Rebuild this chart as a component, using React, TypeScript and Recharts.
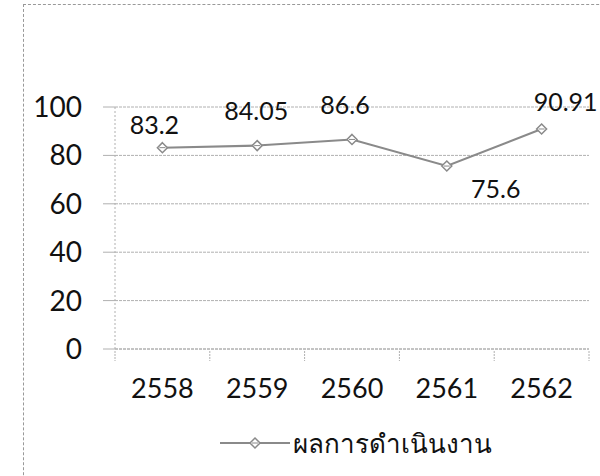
import { LineChart, Line, XAxis, YAxis, CartesianGrid, Legend, LabelList } from "recharts";

const YEARS = ["2558", "2559", "2560", "2561", "2562"];
const RESULTS = [83.2, 84.05, 86.6, 75.6, 90.91];
const Y_TICKS = [0, 20, 40, 60, 80, 100];
const SERIES_NAME = "ผลการดำเนินงาน";

// label placement relative to each point (Excel moved them by hand)
const LABEL_OFFSETS = [
  [-8, -24],
  [-1, -36],
  [-7, -35],
  [49, 22],
  [24, -28],
];

const data = YEARS.map((year, i) => ({ year, value: RESULTS[i] }));

const FONT = "Lato, 'Open Sans', sans-serif";
const LINE = "#8a8a8a";
const GRID = "#b0b0b0";
const BAND = 94.8;

function Marker({ cx, cy }: any) {
  if (cx == null || cy == null) return null;
  const r = 5;
  return (
    <g>
      <polygon
        points={`${cx},${cy - r} ${cx + r},${cy} ${cx},${cy + r} ${cx - r},${cy}`}
        fill="#fff"
        stroke={LINE}
        strokeWidth={1.5}
      />
      <line x1={cx - 3} y1={cy} x2={cx + 3} y2={cy} stroke={LINE} strokeWidth={1} />
    </g>
  );
}

function XTick({ x, y, payload, index }: any) {
  const last = index === YEARS.length - 1;
  return (
    <g>
      <line x1={x - BAND / 2} y1={y} x2={x - BAND / 2} y2={y + 10} stroke={GRID} strokeDasharray="2 1" />
      {last && <line x1={x + BAND / 2} y1={y} x2={x + BAND / 2} y2={y + 10} stroke={GRID} strokeDasharray="2 1" />}
      <text x={x} y={y + 47} textAnchor="middle" fontSize={27} fill="#111" fontFamily={FONT}>
        {payload.value}
      </text>
    </g>
  );
}

function ValueLabel({ x, y, value, index }: any) {
  const [dx, dy] = LABEL_OFFSETS[index] ?? [0, -20];
  return (
    <text x={x + dx} y={y + dy} textAnchor="middle" dominantBaseline="central" fontSize={25} fill="#111" fontFamily={FONT}>
      {value}
    </text>
  );
}

function LegendContent() {
  return (
    <svg width={600} height={44}>
      <line x1={220} y1={22} x2={290} y2={22} stroke={LINE} strokeWidth={2} />
      <Marker cx={255} cy={22} />
      <text x={293} y={22} dominantBaseline="central" fontSize={26} fontWeight={500} fill="#111" fontFamily="'Noto Sans', sans-serif">
        {SERIES_NAME}
      </text>
    </svg>
  );
}

export default function App() {
  return (
    <div style={{ position: "absolute", left: 0, top: 0, width: 600, height: 476, background: "#fff", overflow: "hidden" }}>
      <div
        style={{
          position: "absolute",
          left: 23,
          top: 4,
          width: 620,
          height: 520,
          borderLeft: "1px dashed #999",
          borderTop: "1px dashed #999",
        }}
      />
      <LineChart
        width={600}
        height={476}
        data={data}
        margin={{ top: 107, right: 11, left: 0, bottom: 0 }}
        style={{ position: "absolute", left: 0, top: 0 }}
      >
        <CartesianGrid vertical={false} stroke={GRID} strokeDasharray="3 1" />
        <XAxis
          dataKey="year"
          height={127}
          padding={{ left: BAND / 2, right: BAND / 2 }}
          axisLine={{ stroke: GRID, strokeDasharray: "3 1" }}
          tickLine={false}
          tickSize={0}
          tick={<XTick />}
          interval={0}
        />
        <YAxis
          width={115}
          domain={[0, 100]}
          ticks={Y_TICKS}
          axisLine={{ stroke: GRID, strokeDasharray: "2 2" }}
          tickLine={{ stroke: GRID }}
          tickSize={12}
          tickMargin={21}
          tick={{ fontSize: 28, fill: "#111", fontFamily: FONT }}
        />
        <Legend
          layout="horizontal"
          verticalAlign="middle"
          align="center"
          wrapperStyle={{ top: 421, left: 0, width: 600 }}
          content={<LegendContent />}
        />
        <Line
          type="linear"
          dataKey="value"
          name={SERIES_NAME}
          stroke={LINE}
          strokeWidth={2}
          dot={<Marker />}
          activeDot={false}
          isAnimationActive={false}
        >
          <LabelList dataKey="value" content={<ValueLabel />} />
        </Line>
      </LineChart>
    </div>
  );
}
